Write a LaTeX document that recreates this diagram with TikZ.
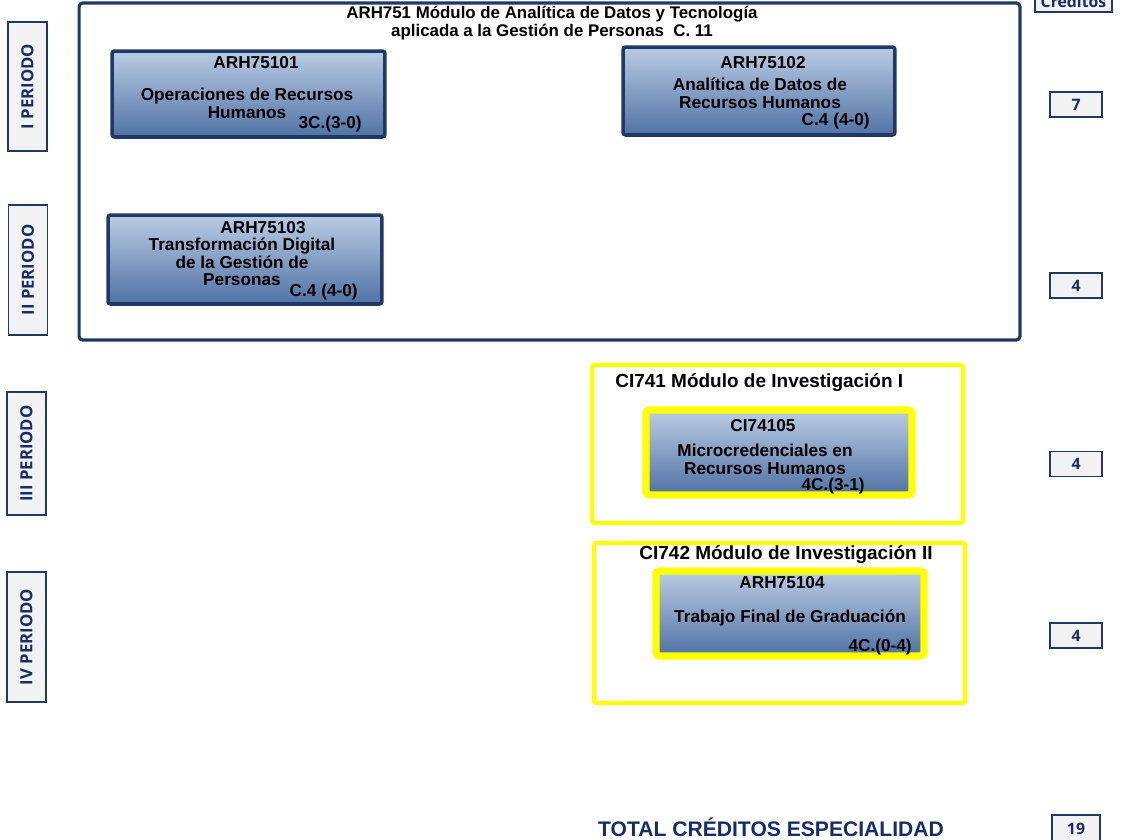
\documentclass[tikz,border=0pt]{standalone}
\usepackage{fontspec}
\setmainfont{Liberation Sans}
\newfontfamily\periodfont{Open Sans}
\definecolor{navy}{RGB}{31,56,100}
\definecolor{navytext}{RGB}{23,45,105}
\definecolor{boxgray}{RGB}{242,242,242}
\definecolor{shadetop}{RGB}{186,204,228}
\definecolor{shadebot}{RGB}{80,114,164}
\definecolor{ylw}{RGB}{255,255,0}

\begin{document}
\begin{tikzpicture}[x=0.02cm,y=-0.02cm]
	\tikzstyle{every node} = [inner sep=0pt, font=\fontsize{9.8}{10}\selectfont\bfseries]
	\tikzstyle{period} = [draw=navy, fill=boxgray, line width=0.9pt, minimum height=0.78cm, rotate=90, text=navytext, font=\periodfont\fontsize{9.5}{10}\selectfont\bfseries]
	\tikzstyle{credit} = [draw=navy, fill=boxgray, line width=0.9pt, minimum width=1.04cm, minimum height=0.5cm, text=navytext, font=\periodfont\fontsize{9}{10}\selectfont\bfseries]
	\tikzstyle{module} = [draw=navy, line width=1.8pt, rounded corners=2pt]
	\tikzstyle{research} = [draw=ylw, line width=2.4pt, rounded corners=1pt]
	\tikzstyle{course} = [draw=navy, line width=2pt, rounded corners=1.5pt, top color=shadetop, bottom color=shadebot]
	\tikzstyle{yellowcourse} = [draw=ylw, line width=4.2pt, rounded corners=2pt, top color=shadetop, bottom color=shadebot]
	\tikzstyle{hours} = [anchor=east]
	\useasboundingbox (0,0) rectangle (1128,839);

	% periodos
	\node[period, minimum width=2.58cm] (p1) at (27.5,86.5) {I PERIODO};
	\node[period, minimum width=2.6cm] (p2) at (28,270) {II PERIODO};
	\node[period, minimum width=2.46cm] (p3) at (26.5,453.5) {III PERIODO};
	\node[period, minimum width=2.6cm] (p4) at (26.5,637) {IV PERIODO};

	% creditos
	\node[credit, minimum width=1.54cm, minimum height=0.44cm, anchor=south] (kh) at (1073.5,13) {Créditos};
	\node[credit] (k1) at (1076,104.5) {7};
	\node[credit] (k2) at (1076,285.5) {4};
	\node[credit] (k3) at (1076,464) {4};
	\node[credit] (k4) at (1076,635.5) {4};
	\node[credit, minimum width=0.96cm, minimum height=0.56cm, anchor=north] (kt) at (1076,814) {19};
	\node[anchor=base, text=navytext, font=\fontsize{12}{13}\selectfont\bfseries] (total) at (771,836) {TOTAL CRÉDITOS ESPECIALIDAD};

	% modulo ARH751
	\node[module, minimum width=18.82cm, minimum height=6.74cm] (arh751) at (549.5,171.5) {};
	\node[align=center, font=\fontsize{9.6}{8.4}\selectfont\bfseries] (arh751t) at (552,23) {ARH751 Módulo de Analítica de Datos y Tecnología\\aplicada a la Gestión de Personas\ \ C. 11};

	\node[course, minimum width=5.46cm, minimum height=1.72cm] (c101) at (248.5,94) {};
	\node (c101a) at (256,63) {ARH75101};
	\node[align=center] (c101b) at (247,103.5) {Operaciones de Recursos\\Humanos};
	\node[hours] (c101c) at (362,124) {3C.(3-0)};

	\node[course, minimum width=5.44cm, minimum height=1.76cm] (c102) at (759,91) {};
	\node (c102a) at (763,63) {ARH75102};
	\node[align=center] (c102b) at (760,93.5) {Analítica de Datos de\\Recursos Humanos};
	\node[hours] (c102c) at (870,121) {C.4 (4-0)};

	\node[course, minimum width=5.48cm, minimum height=1.78cm] (c103) at (245,259.5) {};
	\node (c103a) at (263,228) {ARH75103};
	\node[align=center] (c103b) at (242,262) {Transformación Digital\\de la Gestión de\\Personas};
	\node[hours] (c103c) at (358,292) {C.4 (4-0)};

	% modulo CI741
	\node[research, minimum width=7.42cm, minimum height=3.16cm] (ci741) at (777.5,444) {};
	\node[anchor=west, font=\fontsize{10.8}{11}\selectfont\bfseries] (ci741t) at (615,383) {CI741 Módulo de Investigación I};
	\node[yellowcourse, minimum width=5.32cm, minimum height=1.7cm] (c105) at (779,452.5) {};
	\node (c105a) at (763,426) {CI74105};
	\node[align=center] (c105b) at (765,459.5) {Microcredenciales en\\Recursos Humanos};
	\node[hours] (c105c) at (865,486.5) {4C.(3-1)};

	% modulo CI742
	\node[research, minimum width=7.42cm, minimum height=3.2cm] (ci742) at (779.5,623) {};
	\node[font=\fontsize{10.8}{11}\selectfont\bfseries] (ci742t) at (786,555) {CI742 Módulo de Investigación II};
	\node[yellowcourse, minimum width=5.36cm, minimum height=1.7cm] (c104) at (790,613.5) {};
	\node (c104a) at (782,583) {ARH75104};
	\node (c104b) at (790,618) {Trabajo Final de Graduación};
	\node[hours] (c104c) at (912,647) {4C.(0-4)};
\end{tikzpicture}
\end{document}
